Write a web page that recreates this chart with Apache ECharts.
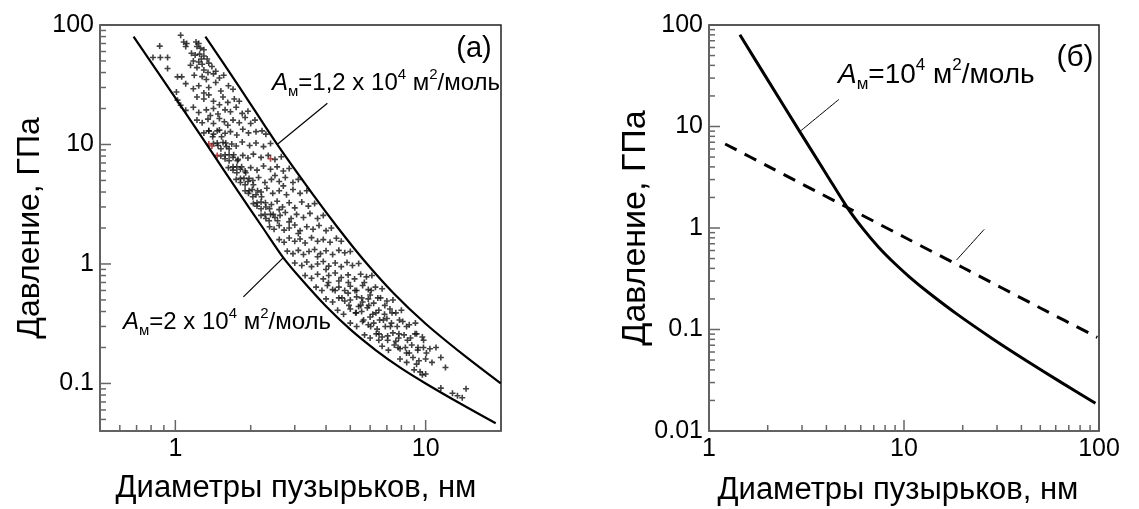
<!DOCTYPE html>
<html>
<head>
<meta charset="utf-8">
<script src="https://cdn.jsdelivr.net/npm/echarts@6/dist/echarts.min.js"></script>
<style>
html,body{margin:0;padding:0;background:#fff;}
#chart{width:1139px;height:509px;}
</style>
</head>
<body>
<div id="chart"></div>
<script>
// левая панель: граничные кривые
var upperCurveD = [1.318, 1.778, 2.553, 3.548, 4.467, 5.623, 7.413, 10, 14.13, 19.95];
var upperCurveP = [79.8, 31.6, 10, 3.80, 2.0, 1.096, 0.575, 0.316, 0.174, 0.1];
var lowerCurveD = [0.681, 1.0, 1.334, 1.778, 2.239, 2.698, 3.162, 3.981, 5.012, 6.31, 7.943, 10, 13.8, 19.05];
var lowerCurveP = [80, 24.5, 10, 4.07, 2.0, 1.13, 0.759, 0.447, 0.282, 0.1905, 0.135, 0.1, 0.0676, 0.0464];

// левая панель: экспериментальные точки [d, P]
var pointsTop = [
  [1.05,82],[1.08,72],[1.11,70],[1.10,66],[1.21,72],[1.24,70],[1.22,66],[1.26,64],[1.30,62],
  [0.866,66.6],[0.814,53.5],[0.871,53.5],[0.931,53.5],[0.931,43.2],
  [1.16,58],[1.2,56],[1.25,57],[1.3,55],[1.34,52],[1.18,50],[1.24,49],[1.28,47],[1.36,48],[1.4,45],[1.22,44],[1.3,42],[1.35,40],[1.45,41],[1.15,46],[1.27,52],
  [1.02,36.8],[1.06,36.8],[1.19,38],[1.28,37],[1.42,39],[1.5,36],[1.56,38],[1.33,35],
  [1.01,27.5],[1.10,32.3],[1.18,29.3],[1.24,31],[1.36,30],[1.45,33],[1.52,28],[1.63,31],[1.7,29],[1.3,27],
  [1.02,23.5],[1.05,21.3],[1.1,19.3],[1.22,25],[1.3,24],[1.36,26],[1.42,23],[1.55,25],[1.62,22.5],[1.72,24],[1.8,23],[1.5,21.5]
];
var pointsMid = [
  [1.18,20.5],[1.24,18.5],[1.33,19.5],[1.42,20],[1.48,18],[1.58,19.5],[1.66,18.8],[1.75,20.5],[1.85,18.2],[1.95,19],[1.38,17.5],
  [1.22,16],[1.28,15.2],[1.35,16.3],[1.42,15],[1.5,16.5],[1.57,15.5],[1.7,16],[1.8,15.2],[1.9,16.8],[2.0,15],[2.08,16],[1.62,14.5],
  [1.3,12.5],[1.36,13],[1.42,12.2],[1.5,13.2],[1.58,12.4],[1.66,12.8],[1.76,12],[1.86,13.4],[1.96,12.5],[2.1,12.8],[2.22,13],[2.3,12.2],
  [1.42,10.2],[1.48,9.8],[1.55,10.4],[1.6,9.6],[1.68,10.1],[1.75,9.7],[1.85,10.5],[1.98,9.8],[2.1,10.3],[2.25,9.6],[2.4,10.2],
  [1.52,8.0],[1.58,7.6],[1.64,8.2],[1.7,7.8],[1.78,7.5],[1.86,8.1],[1.95,7.7],[2.05,8.3],[2.2,7.8],[2.35,8.1],[2.5,7.5],[2.65,7.9],
  [1.63,6.4],[1.7,6.1],[1.76,6.5],[1.82,6.2],[1.9,6.0],[2.0,6.4],[2.12,6.1],[2.25,6.6],[2.4,6.2],[2.55,6.5],[2.7,6.0],[2.85,6.3],
  [1.75,5.1],[1.82,4.8],[1.88,5.2],[1.95,4.9],[2.04,5.0],[2.15,5.3],[2.28,4.8],[2.42,5.1],[2.6,4.9],[2.75,5.3],[2.95,4.8],[3.1,5.1],[2.5,5.5],
  [1.9,4.1],[1.96,3.9],[2.03,4.2],[2.1,3.8],[2.2,4.0],[2.32,4.3],[2.45,3.9],[2.6,4.1],[2.78,3.8],[2.95,4.2],[3.15,3.9],[3.35,4.1],[2.7,4.5]
];
var pointsLow = [
  [2.05,3.2],[2.12,3.05],[2.2,3.3],[2.3,3.0],[2.42,3.15],[2.55,3.35],[2.68,3.0],[2.85,3.25],[3.0,2.95],[3.2,3.3],[3.4,3.05],[3.6,3.2],[2.6,2.85],
  [2.2,2.55],[2.3,2.4],[2.4,2.6],[2.5,2.45],[2.62,2.55],[2.75,2.7],[2.9,2.4],[3.05,2.6],[3.25,2.45],[3.45,2.65],[3.7,2.4],[3.9,2.55],[2.85,2.25],
  [2.38,2.05],[2.48,1.95],[2.6,2.1],[2.72,1.92],[2.85,2.0],[3.0,2.12],[3.15,1.9],[3.35,2.05],[3.55,1.95],[3.75,2.1],[4.0,1.9],[4.2,2.0],[3.1,1.8],
  [2.6,1.6],[2.72,1.52],[2.85,1.65],[3.0,1.55],[3.15,1.62],[3.3,1.5],[3.5,1.66],[3.7,1.55],[3.9,1.6],[4.15,1.52],[4.4,1.64],[4.6,1.55],
  [2.8,1.28],[2.95,1.22],[3.1,1.3],[3.25,1.2],[3.42,1.27],[3.6,1.32],[3.8,1.22],[4.0,1.29],[4.25,1.2],[4.5,1.3],[4.75,1.24],[5.0,1.27],[3.7,1.15],
  [3.0,1.02],[3.2,0.97],[3.35,1.04],[3.5,0.95],[3.7,1.0],[3.9,1.05],[4.1,0.96],[4.35,1.02],[4.6,0.95],[4.85,1.03],[5.1,0.97],[5.4,1.01],[4.0,0.9],
  [3.3,0.8],[3.5,0.76],[3.7,0.82],[3.9,0.75],[4.1,0.8],[4.35,0.84],[4.6,0.77],[4.9,0.81],[5.2,0.75],[5.5,0.82],[5.8,0.78],[6.1,0.8],[4.5,0.72],
  [3.65,0.64],[3.85,0.6],[4.05,0.66],[4.25,0.61],[4.5,0.64],[4.75,0.6],[5.0,0.65],[5.3,0.6],[5.6,0.66],[5.9,0.61],[6.3,0.64],[6.7,0.62],[4.9,0.57],
  [4.0,0.51],[4.25,0.48],[4.5,0.52],[4.75,0.49],[5.0,0.5],[5.3,0.53],[5.6,0.48],[5.9,0.51],[6.2,0.47],[6.6,0.52],[7.0,0.49],[7.4,0.5],[5.5,0.45],[6.0,0.55],
  [4.45,0.41],[4.7,0.38],[5.0,0.42],[5.25,0.39],[5.55,0.4],[5.85,0.43],[6.15,0.38],[6.5,0.41],[6.85,0.38],[7.2,0.42],[7.6,0.39],[8.0,0.41],[6.0,0.36],[5.4,0.44],
  [5.0,0.32],[5.3,0.3],[5.6,0.33],[5.9,0.31],[6.2,0.32],[6.55,0.34],[6.9,0.3],[7.3,0.32],[7.7,0.3],[8.1,0.33],[8.6,0.31],[9.1,0.32],[6.4,0.285],[7.0,0.35],
  [5.7,0.255],[6.0,0.24],[6.35,0.26],[6.7,0.245],[7.05,0.25],[7.4,0.265],[7.8,0.24],[8.2,0.255],[8.7,0.24],[9.2,0.26],[9.7,0.245],[7.6,0.225],[6.5,0.23],
  [6.7,0.205],[7.1,0.19],[7.5,0.21],[7.9,0.195],[8.3,0.2],[8.8,0.21],[9.3,0.19],[9.8,0.2],[10.4,0.195],[11.0,0.2],[8.6,0.18],
  [7.9,0.16],[8.4,0.15],[8.9,0.165],[9.4,0.155],[10.0,0.16],[10.6,0.15],[11.5,0.165],[9.2,0.145],
  [9.0,0.13],[9.5,0.125],[10.0,0.12],[12.0,0.136],[9.7,0.118],
  [11.5,0.0914],[12.8,0.0828],[13.4,0.079],[14.0,0.076],[14.5,0.0903]
];
// плотные цепочки точек
var strandUpper = [
  [1.36,13],[1.41,11.6],[1.47,10.3],[1.52,9.2],[1.58,8.2],[1.64,7.3],[1.70,6.5],[1.76,5.8],[1.82,5.2],[1.90,4.6],[1.97,4.1],[2.04,3.65],[2.12,3.25],[2.20,2.9],[2.28,2.6],[2.37,2.3],
  [1.47,13],[1.53,11.6],[1.59,10.3],[1.64,9.2],[1.71,8.2],[1.77,7.3],[1.84,6.5],[1.91,5.8],[1.97,5.2],[2.05,4.6],[2.13,4.1],[2.21,3.65],[2.29,3.25],[2.38,2.9],[2.46,2.6],[2.56,2.3]
];
var strandLower = [
  [4.09,0.7],[4.35,0.6],[4.63,0.52],[4.94,0.45],[5.28,0.39],[5.65,0.34],[6.03,0.3],[6.51,0.26],[7.05,0.23],[7.76,0.2],[8.39,0.18],
  [4.91,0.7],[5.22,0.6],[5.55,0.52],[5.93,0.45],[6.33,0.39],[6.78,0.34],[7.23,0.3],[7.82,0.26],[8.46,0.23],[9.32,0.2],[10.07,0.18],
  [5.69,0.7],[6.06,0.6],[6.44,0.52],[6.87,0.45],[7.34,0.39],[7.86,0.34],[8.39,0.3],[9.07,0.26],[9.81,0.23]
];
var pointsRed = [[1.36,10.1],[1.40,9.7],[1.47,8.1],[2.4,7.6]];

// правая панель
var solidD = [1.44, 2.0, 2.92, 4.0, 5.15, 6.17, 7.41, 8.91, 10.72, 13.49, 18.62, 28.18, 42.66, 64.57, 95.9];
var solidP = [80, 28.8, 8.9, 3.39, 1.563, 0.98, 0.647, 0.452, 0.327, 0.2275, 0.1426, 0.0822, 0.049, 0.0298, 0.01875];
var dashD = [1.21, 2, 5, 10, 20, 50, 98];
var dashP = [6.73, 4.07, 1.63, 0.815, 0.408, 0.163, 0.0837];

// выноски
var leaderLeftUpper = [[2.55,10],[4.05,22.1]];
var leaderLeftLower = [[2.70,1.13],[1.87,0.53]];
var leaderRightSolid = [[2.92,8.9],[4.64,18.5]];
var leaderRightDash = [[18.6,0.484],[25.8,0.97]];

// деления осей
var xLeftMinor = [0.6,0.7,0.8,0.9,2,3,4,5,6,7,8,9];
var xLeftMajor = [1,10];
var yLeftMinor = [0.05,0.06,0.07,0.08,0.09,0.2,0.3,0.4,0.5,0.6,0.7,0.8,0.9,2,3,4,5,6,7,8,9,20,30,40,50,60,70,80,90];
var yLeftMajor = [0.1,1,10];
var xRightMinor = [2,3,4,5,6,7,8,9,20,30,40,50,60,70,80,90];
var xRightMajor = [10];
var yRightMinor = [0.02,0.03,0.04,0.05,0.06,0.07,0.08,0.09,0.2,0.3,0.4,0.5,0.6,0.7,0.8,0.9,2,3,4,5,6,7,8,9,20,30,40,50,60,70,80,90];
var yRightMajor = [0.1,1,10];

var FONT = '"Liberation Sans", Arial, sans-serif';
var AXIS_COLOR = '#666';
var PLUS = 'path://M2.2,0H3.8V2.2H6V3.8H3.8V6H2.2V3.8H0V2.2H2.2Z';

function zip(xs, ys) {
    var out = [];
    for (var i = 0; i < xs.length; i++) out.push([xs[i], ys[i]]);
    return out;
}

function powerLabel(v) {
    var l = Math.log(v) / Math.LN10;
    return Math.abs(l - Math.round(l)) < 1e-6 ? String(v) : '';
}

// [x, y, длина, направление] -> короткий штрих внутрь поля
function tickData(xMin, yMin, xMinor, xMajor, yMinor, yMajor) {
    var d = [];
    xMinor.forEach(function (v) { d.push([v, yMin, 6, 0]); });
    xMajor.forEach(function (v) { d.push([v, yMin, 11, 0]); });
    yMinor.forEach(function (v) { d.push([xMin, v, 6, 1]); });
    yMajor.forEach(function (v) { d.push([xMin, v, 11, 1]); });
    return d;
}

function renderTick(params, api) {
    var p = api.coord([api.value(0), api.value(1)]);
    var len = api.value(2);
    var shape = api.value(3) === 0
        ? { x1: p[0], y1: p[1], x2: p[0], y2: p[1] - len }
        : { x1: p[0], y1: p[1], x2: p[0] + len, y2: p[1] };
    return { type: 'line', shape: shape, style: { stroke: AXIS_COLOR, lineWidth: 1.5 } };
}

function logAxis(grid, min, max, isX) {
    return {
        type: 'log', gridIndex: grid, min: min, max: max, logBase: 10,
        axisLine: { show: true, lineStyle: { color: AXIS_COLOR, width: 1.5 } },
        axisTick: { show: false },
        splitLine: { show: false },
        axisLabel: {
            fontSize: 25, color: '#000', fontFamily: FONT,
            margin: isX ? 6 : 6, formatter: powerLabel
        }
    };
}

function lineSeries(xi, data, width, dashed) {
    return {
        type: 'line', xAxisIndex: xi, yAxisIndex: xi, data: data,
        symbol: 'none', smooth: 0.3, silent: true,
        lineStyle: { color: '#000', width: width, type: dashed ? [13, 9] : 'solid' }
    };
}

function richFor(size) {
    var small = Math.round(size * 0.62);
    return {
        i: { fontStyle: 'italic', fontSize: size, fontFamily: FONT, fill: '#000', lineHeight: size + 8 },
        sub: { fontSize: small, fontFamily: FONT, fill: '#000', lineHeight: small, verticalAlign: 'bottom' },
        sup: { fontSize: small, fontFamily: FONT, fill: '#000', lineHeight: small, verticalAlign: 'top' }
    };
}

function note(x, y, text, size) {
    return {
        type: 'text', x: x, y: y, silent: true,
        style: {
            text: text, rich: richFor(size), fontSize: size, fontFamily: FONT, fill: '#000',
            lineHeight: size + 8, align: 'left', verticalAlign: 'middle'
        }
    };
}

function plainText(x, y, text, size, rot) {
    return {
        type: 'text', x: x, y: y, rotation: rot || 0, silent: true,
        style: { text: text, fontSize: size, fontFamily: FONT, fill: '#000', align: 'center', verticalAlign: 'middle' }
    };
}

var chart = echarts.init(document.getElementById('chart'));

var option = {
    animation: false,
    backgroundColor: '#fff',
    grid: [
        { left: 100, top: 25, width: 401, height: 406, show: true, borderColor: '#222', borderWidth: 1.5, backgroundColor: 'transparent' },
        { left: 709, top: 25, width: 390, height: 406, show: true, borderColor: '#222', borderWidth: 1.5, backgroundColor: 'transparent' }
    ],
    xAxis: [logAxis(0, 0.5, 20, true), logAxis(1, 1, 100, true)],
    yAxis: [logAxis(0, 0.04, 100, false), logAxis(1, 0.01, 100, false)],
    series: [
        {
            type: 'scatter', xAxisIndex: 0, yAxisIndex: 0, silent: true,
            symbol: PLUS, symbolSize: 6,
            itemStyle: { color: '#111' },
            data: pointsTop.concat(pointsMid, pointsLow, strandUpper, strandLower)
        },
        {
            type: 'scatter', xAxisIndex: 0, yAxisIndex: 0, silent: true,
            symbol: PLUS, symbolSize: 6,
            itemStyle: { color: '#9a1c1c' },
            data: pointsRed
        },
        lineSeries(0, zip(upperCurveD, upperCurveP), 2.2, false),
        lineSeries(0, zip(lowerCurveD, lowerCurveP), 2.2, false),
        lineSeries(0, leaderLeftUpper, 1.2, false),
        lineSeries(0, leaderLeftLower, 1.2, false),
        lineSeries(1, zip(solidD, solidP), 3, false),
        lineSeries(1, zip(dashD, dashP), 3, true),
        lineSeries(1, leaderRightSolid, 1, false),
        lineSeries(1, leaderRightDash, 1, false),
        {
            type: 'custom', xAxisIndex: 0, yAxisIndex: 0, silent: true, clip: false,
            renderItem: renderTick,
            data: tickData(0.5, 0.04, xLeftMinor, xLeftMajor, yLeftMinor, yLeftMajor)
        },
        {
            type: 'custom', xAxisIndex: 1, yAxisIndex: 1, silent: true, clip: false,
            renderItem: renderTick,
            data: tickData(1, 0.01, xRightMinor, xRightMajor, yRightMinor, yRightMajor)
        }
    ],
    graphic: [
        plainText(30, 228, 'Давление, ГПа', 32, Math.PI / 2),
        plainText(636, 228, 'Давление, ГПа', 34, Math.PI / 2),
        plainText(296, 488, 'Диаметры пузырьков, нм', 31),
        plainText(898, 490, 'Диаметры пузырьков, нм', 31),
        plainText(474, 49, '(a)', 29),
        plainText(1075, 58, '(б)', 30),
        note(272, 83, '{i|A}{sub|м}=1,2 x 10{sup|4} м{sup|2}/моль', 24),
        note(123, 322, '{i|A}{sub|м}=2 x 10{sup|4} м{sup|2}/моль', 24),
        note(838, 75, '{i|A}{sub|м}=10{sup|4} м{sup|2}/моль', 28)
    ]
};

chart.setOption(option);
</script>
</body>
</html>
